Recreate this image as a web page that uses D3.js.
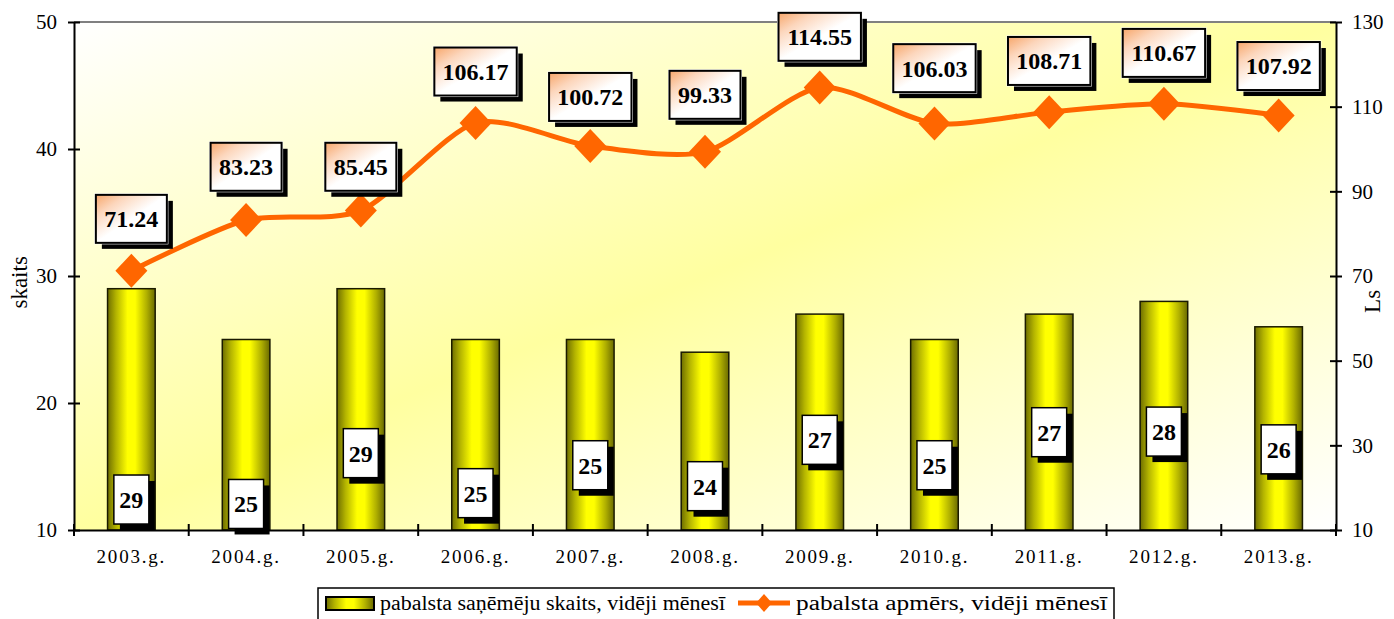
<!DOCTYPE html>
<html>
<head>
<meta charset="utf-8">
<script src="https://cdn.jsdelivr.net/npm/d3@7"></script>
<style>
  body { margin: 0; background: #fff; }
</style>
</head>
<body>
<svg id="chart" width="1394" height="619"></svg>
<script>
// data
const years = ["2003.g.", "2004.g.", "2005.g.", "2006.g.", "2007.g.", "2008.g.", "2009.g.", "2010.g.", "2011.g.", "2012.g.", "2013.g."];
const recipients = [29, 25, 29, 25, 25, 24, 27, 25, 27, 28, 26];
const amounts = [71.24, 83.23, 85.45, 106.17, 100.72, 99.33, 114.55, 106.03, 108.71, 110.67, 107.92];
// where the value boxes sit, in the units of their own axis
const recipientLabelAt = [12.4, 12.05, 16.05, 12.9, 15.1, 13.45, 17.1, 15.1, 17.7, 17.75, 16.35];
const amountLabelAt = [83.5, 95.8, 95.8, 118.3, 112.3, 112.8, 126.5, 119.1, 120.8, 122.7, 119.6];
const leftTicks = [10, 20, 30, 40, 50];
const rightTicks = [10, 30, 50, 70, 90, 110, 130];
const legendLabels = ["pabalsta  saņēmēju skaits, vidēji mēnesī", "pabalsta apmērs, vidēji mēnesī"];

const FONT = "Liberation Serif";

const svg = d3.select("#chart");
const margin = { top: 22, right: 58, bottom: 89, left: 74 };
const width = 1394 - margin.left - margin.right;
const height = 619 - margin.top - margin.bottom;
const chart = svg.append("g").attr("transform", `translate(${margin.left},${margin.top})`);

const x = d3.scaleBand().domain(years).range([0, width]);
const yL = d3.scaleLinear().domain([10, 50]).range([height, 0]);
const yR = d3.scaleLinear().domain([10, 130]).range([height, 0]);

const defs = svg.append("defs");
const bg = defs.append("linearGradient").attr("id", "bg")
  .attr("x1", 0).attr("y1", 0).attr("x2", 1).attr("y2", 1);
bg.append("stop").attr("offset", "0%").attr("stop-color", "#ffffff");
bg.append("stop").attr("offset", "50%").attr("stop-color", "#ffffa0");
bg.append("stop").attr("offset", "100%").attr("stop-color", "#ffffff");

const barGrad = defs.append("linearGradient").attr("id", "bar")
  .attr("x1", 0).attr("y1", 0).attr("x2", 1).attr("y2", 0);
[["0%", "#6e6e00"], ["18%", "#b4b400"], ["42%", "#ffff00"], ["58%", "#ffff00"], ["82%", "#b0b000"], ["100%", "#6a6a00"]]
  .forEach(([o, c]) => barGrad.append("stop").attr("offset", o).attr("stop-color", c));

const boxGrad = defs.append("linearGradient").attr("id", "box")
  .attr("x1", 0).attr("y1", 0).attr("x2", 1).attr("y2", 1);
[["0%", "#f7a66a"], ["22%", "#fcd6bc"], ["50%", "#ffffff"]]
  .forEach(([o, c]) => boxGrad.append("stop").attr("offset", o).attr("stop-color", c));

// plot area
chart.append("rect").attr("width", width).attr("height", height).attr("fill", "url(#bg)");
chart.append("line").attr("x1", 0).attr("x2", width).attr("y1", 0).attr("y2", 0)
  .attr("stroke", "#808080").attr("stroke-width", 2);

// bars
const barW = x.bandwidth() * 0.415;
chart.append("g").selectAll("rect")
  .data(recipients)
  .join("rect")
  .attr("x", (d, i) => x(years[i]) + (x.bandwidth() - barW) / 2)
  .attr("y", d => yL(d))
  .attr("width", barW)
  .attr("height", d => yL(10) - yL(d))
  .attr("fill", "url(#bar)")
  .attr("stroke", "#1a1a00")
  .attr("stroke-width", 1.5);

// axes
const axisStyle = g => {
  g.select(".domain").attr("stroke", "#000").attr("stroke-width", 2);
  g.selectAll(".tick line").attr("stroke", "#000").attr("stroke-width", 2);
  g.selectAll("text").style("font-family", FONT).style("font-size", "21px").attr("fill", "#000");
};

chart.append("g")
  .call(d3.axisLeft(yL).tickValues(leftTicks).tickSize(6).tickPadding(11).tickSizeOuter(0))
  .call(axisStyle)
  .call(g => g.selectAll(".tick line").attr("x2", -6).attr("x1", 6));

chart.append("g")
  .attr("transform", `translate(${width},0)`)
  .call(d3.axisRight(yR).tickValues(rightTicks).tickSize(6).tickPadding(10).tickSizeOuter(0))
  .call(axisStyle)
  .call(g => g.selectAll(".tick line").attr("x1", -6).attr("x2", 6));

const xAxis = chart.append("g")
  .attr("transform", `translate(0,${height})`)
  .call(d3.axisBottom(x).tickSize(0).tickPadding(20).tickSizeOuter(0))
  .call(axisStyle);
xAxis.selectAll("text").style("font-size", "19px").style("letter-spacing", "1.8px");
xAxis.selectAll(".bound")
  .data(years.map(d => x(d)).concat([width]))
  .join("line")
  .attr("x1", d => d).attr("x2", d => d)
  .attr("y1", -6).attr("y2", 6)
  .attr("stroke", "#000").attr("stroke-width", 2);

// line series
const cx = i => x(years[i]) + x.bandwidth() / 2;
const line = d3.line()
  .x((d, i) => cx(i))
  .y(d => yR(d))
  .curve(d3.curveCardinal.tension(0.25));

chart.append("path")
  .datum(amounts)
  .attr("d", line)
  .attr("fill", "none")
  .attr("stroke", "#ff6600")
  .attr("stroke-width", 5)
  .attr("stroke-linejoin", "round");

chart.append("g").selectAll("path")
  .data(amounts)
  .join("path")
  .attr("transform", (d, i) => `translate(${cx(i)},${yR(d)})`)
  .attr("d", "M0,-17L16,0L0,17L-16,0Z")
  .attr("fill", "#ff6600");

// value boxes for bars
const barLabels = chart.append("g").selectAll("g")
  .data(recipients)
  .join("g")
  .attr("transform", (d, i) => `translate(${cx(i)},${yL(recipientLabelAt[i])})`);
barLabels.append("rect")
  .attr("x", -17.5 + 6).attr("y", -24.5 + 6).attr("width", 35).attr("height", 49).attr("fill", "#000");
barLabels.append("rect")
  .attr("x", -17.5).attr("y", -24.5).attr("width", 35).attr("height", 49)
  .attr("fill", "#fff").attr("stroke", "#000").attr("stroke-width", 1.5);
barLabels.append("text")
  .attr("text-anchor", "middle").attr("dy", "0.35em")
  .style("font-family", FONT).style("font-size", "24px").style("font-weight", "bold")
  .text(d => d);

// value boxes for the line
const lineLabels = chart.append("g").selectAll("g")
  .data(amounts)
  .join("g")
  .attr("transform", (d, i) => `translate(${cx(i)},${yR(amountLabelAt[i])})`);
lineLabels.each(function (d) {
  const g = d3.select(this);
  const txt = d.toFixed(2);
  const w = txt.length * 11.4 + 14;
  g.append("rect").attr("x", -w / 2 + 6).attr("y", -24 + 6).attr("width", w).attr("height", 48).attr("fill", "#000");
  g.append("rect").attr("x", -w / 2 - 1.5).attr("y", -25.5).attr("width", w + 3).attr("height", 51).attr("fill", "#fff");
  g.append("rect").attr("x", -w / 2).attr("y", -24).attr("width", w).attr("height", 48)
    .attr("fill", "url(#box)").attr("stroke", "#000").attr("stroke-width", 2);
  g.append("text").attr("text-anchor", "middle").attr("dy", "0.35em")
    .style("font-family", FONT).style("font-size", "24px").style("font-weight", "bold")
    .text(txt);
});

// axis titles
svg.append("text")
  .attr("transform", `translate(27,${margin.top + yL(29.5)}) rotate(-90)`)
  .attr("text-anchor", "middle")
  .style("font-family", FONT).style("font-size", "23px")
  .text("skaits");
svg.append("text")
  .attr("transform", `translate(1380,${margin.top + yR(64)}) rotate(-90)`)
  .attr("text-anchor", "middle")
  .style("font-family", FONT).style("font-size", "23px")
  .text("Ls");

// legend
const legend = svg.append("g").attr("transform", "translate(318,588)");
legend.append("rect").attr("width", 796).attr("height", 40)
  .attr("fill", "#fff").attr("stroke", "#000").attr("stroke-width", 1.5);
legend.append("rect").attr("x", 8).attr("y", 9).attr("width", 48).attr("height", 13)
  .attr("fill", "url(#bar)").attr("stroke", "#000").attr("stroke-width", 2);
legend.append("text").attr("x", 62).attr("y", 22)
  .style("font-family", FONT).style("font-size", "20px")
  .attr("textLength", 345).attr("lengthAdjust", "spacingAndGlyphs")
  .text(legendLabels[0]);
legend.append("line").attr("x1", 420).attr("x2", 472).attr("y1", 15).attr("y2", 15)
  .attr("stroke", "#ff6600").attr("stroke-width", 5);
legend.append("path").attr("transform", "translate(446,15)")
  .attr("d", "M0,-9L8,0L0,9L-8,0Z").attr("fill", "#ff6600");
legend.append("text").attr("x", 478).attr("y", 22)
  .style("font-family", FONT).style("font-size", "20px")
  .attr("textLength", 311).attr("lengthAdjust", "spacingAndGlyphs")
  .text(legendLabels[1]);
</script>
</body>
</html>
